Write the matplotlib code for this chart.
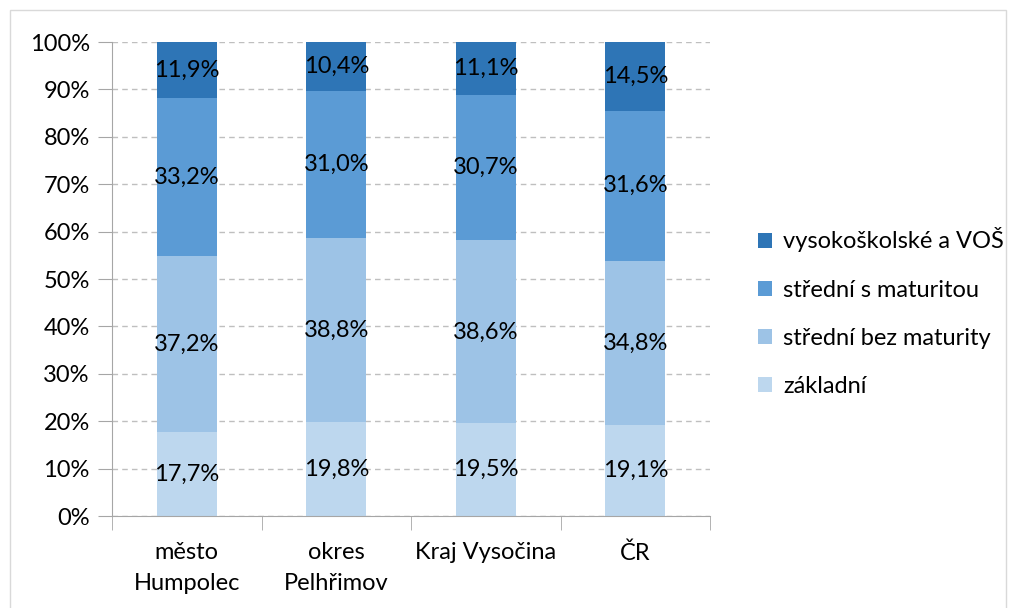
import matplotlib.pyplot as plt
import numpy as np
from matplotlib.patches import Rectangle

plt.rcParams['font.family'] = ['Lato', 'DejaVu Sans']

# Data
regions = ['město\nHumpolec', 'okres\nPelhřimov', 'Kraj Vysočina', 'ČR']
levels = ['základní', 'střední bez maturity', 'střední s maturitou', 'vysokoškolské a VOŠ']
zakladni = [17.7, 19.8, 19.5, 19.1]
bez_maturity = [37.2, 38.8, 38.6, 34.8]
s_maturitou = [33.2, 31.0, 30.7, 31.6]
vysokoskolske = [11.9, 10.4, 11.1, 14.5]
colors = ['#BDD7EE', '#9DC3E6', '#5B9BD5', '#2E75B6']

series = np.array([zakladni, bez_maturity, s_maturitou, vysokoskolske])
shares = series / series.sum(axis=0) * 100

fs = 17
fig = plt.figure(figsize=(10.12, 6.08), dpi=100)
ax = fig.add_axes([0.1107, 0.1513, 0.5909, 0.7796])

x = np.arange(len(regions))
bottom = np.zeros(len(regions))
handles = []
for vals, share, label, color in zip(series, shares, levels, colors):
    bars = ax.bar(x, share, 0.4, bottom=bottom, color=color, label=label, zorder=2)
    for xi, b, s, v in zip(x, bottom, share, vals):
        ax.text(xi, b + s / 2, f'{v:.1f}%'.replace('.', ','), ha='center', va='center',
                fontsize=fs, color='black', zorder=3)
    handles.append(bars)
    bottom += share

ax.set_xlim(-0.5, len(regions) - 0.5)
ax.set_ylim(0, 100)
ax.set_yticks(np.arange(0, 101, 10))
ax.set_yticklabels([f'{v}%' for v in range(0, 101, 10)], fontsize=fs)
ax.yaxis.grid(True, linestyle=(0, (4, 3)), color='#BFBFBF', linewidth=1, zorder=0)
ax.tick_params(axis='y', length=10, color='#A6A6A6', pad=6)

ax.set_xticks(x)
ax.set_xticklabels(regions, fontsize=fs, linespacing=1.55)
ax.set_xticks(np.arange(-0.5, len(regions)), minor=True)
ax.tick_params(axis='x', which='major', length=0, pad=19)
ax.tick_params(axis='x', which='minor', length=10, color='#A6A6A6')

for side in ['top', 'right']:
    ax.spines[side].set_visible(False)
for side in ['left', 'bottom']:
    ax.spines[side].set_color('#A6A6A6')

leg = ax.legend(handles[::-1], levels[::-1], loc='center left', bbox_to_anchor=(1.045, 0.43),
                frameon=False, fontsize=fs, handlelength=0.6, handleheight=0.6,
                handletextpad=0.45, labelspacing=1.15)

fig.patches.append(Rectangle((10 / 1012, -0.01), 996 / 1012, 1 - 10 / 608 + 0.01,
                             transform=fig.transFigure, fill=False,
                             edgecolor='#D9D9D9', linewidth=1))

fig.savefig('out.png', dpi=100)
